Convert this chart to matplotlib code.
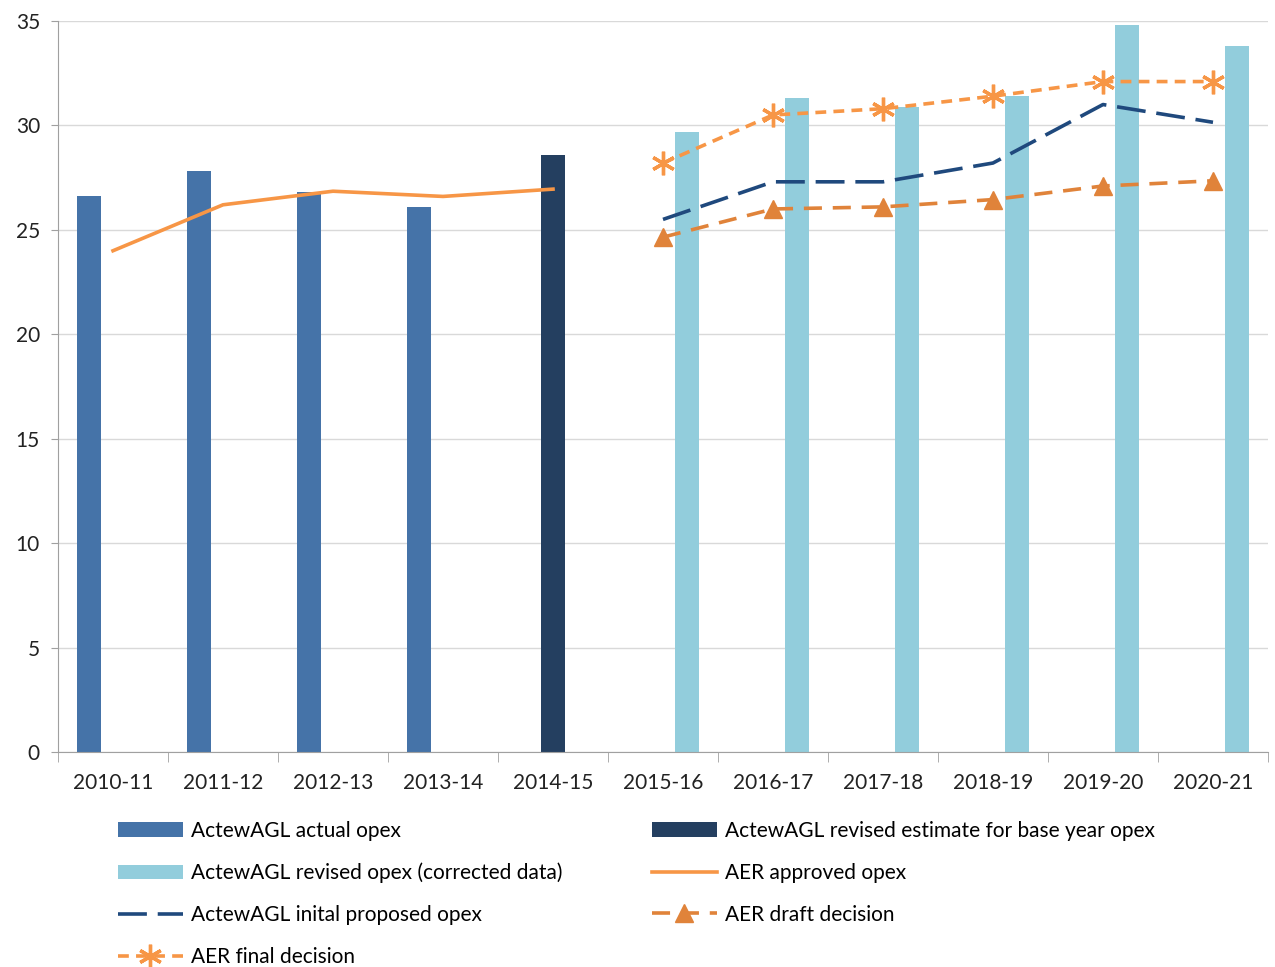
import matplotlib.pyplot as plt
import numpy as np

plt.rcParams['font.family'] = ['Lato', 'DejaVu Sans']

years = ['2010-11', '2011-12', '2012-13', '2013-14', '2014-15', '2015-16',
         '2016-17', '2017-18', '2018-19', '2019-20', '2020-21']

# bars
actual_opex = [26.6, 27.8, 26.8, 26.1, None, None, None, None, None, None, None]
base_year_est = [None, None, None, None, 28.6, None, None, None, None, None, None]
revised_opex = [None, None, None, None, None, 29.7, 31.3, 30.9, 31.4, 34.8, 33.8]

# lines
aer_approved = [24.0, 26.2, 26.85, 26.6, 26.95]
initial_proposed = [25.5, 27.3, 27.3, 28.2, 31.0, 30.15]
draft_decision = [24.65, 26.0, 26.1, 26.45, 27.1, 27.35]
final_decision = [28.2, 30.5, 30.8, 31.4, 32.1, 32.1]

x = np.arange(len(years))
w = 0.22


def to_arr(vals):
    return np.array([np.nan if v is None else v for v in vals], dtype=float)


fig = plt.figure(figsize=(12.75, 9.67), dpi=100)
ax = fig.add_axes([0.0455, 0.2223, 0.949, 0.756])

ax.bar(x - w, to_arr(actual_opex), w, color='#4573A8', label='ActewAGL actual opex', zorder=2)
ax.bar(x, to_arr(base_year_est), w, color='#243F60',
       label='ActewAGL revised estimate for base year opex', zorder=2)
ax.bar(x + w, to_arr(revised_opex), w, color='#92CDDC',
       label='ActewAGL revised opex (corrected data)', zorder=2)

ax.plot(x[:5], aer_approved, color='#F79646', lw=2.6, label='AER approved opex', zorder=3)
ax.plot(x[5:], initial_proposed, color='#1F497D', lw=2.6, dashes=(8, 3),
        label='ActewAGL inital proposed opex', zorder=3)
ax.plot(x[5:], draft_decision, color='#E0833A', lw=2.6, dashes=(5, 3),
        marker='^', markersize=13, label='AER draft decision', zorder=3)
ax.plot(x[5:], final_decision, color='#F79646', lw=2.6, dashes=(3, 2),
        marker=(6, 2, 0), markersize=17, markeredgewidth=2.4,
        label='AER final decision', zorder=3)

ax.set_xlim(-0.5, len(years) - 0.5)
ax.set_ylim(0, 35)
ax.set_yticks(range(0, 36, 5))
ax.set_xticks(x)
ax.set_xticklabels(years)
ax.set_xticks(np.arange(-0.5, len(years), 1), minor=True)
ax.tick_params(axis='x', which='major', length=0, pad=15, labelsize=15, colors='#222222')
ax.tick_params(axis='x', which='minor', length=7, color='#A0A0A0')
ax.tick_params(axis='y', length=5, color='#A0A0A0', labelsize=15, colors='#222222', pad=8)
ax.yaxis.grid(True, color='#D9D9D9', lw=1, zorder=0)
ax.set_axisbelow(True)
for side in ['top', 'right']:
    ax.spines[side].set_visible(False)
for side in ['left', 'bottom']:
    ax.spines[side].set_color('#A0A0A0')

handles, labels = ax.get_legend_handles_labels()
lookup = dict(zip(labels, handles))
col1 = ['ActewAGL actual opex', 'ActewAGL revised opex (corrected data)',
        'ActewAGL inital proposed opex', 'AER final decision']
col2 = ['ActewAGL revised estimate for base year opex', 'AER approved opex',
        'AER draft decision']
leg_kw = dict(loc='upper left', frameon=False, fontsize=15, handlelength=3.1,
              handletextpad=0.4, labelspacing=1.05, borderpad=0, borderaxespad=0)
leg1 = fig.legend([lookup[k] for k in col1], col1,
                  bbox_to_anchor=(118 / 1275, 1 - 821 / 967), **leg_kw)
fig.legend([lookup[k] for k in col2], col2,
           bbox_to_anchor=(652 / 1275, 1 - 821 / 967), **leg_kw)

fig.savefig('out.png', dpi=100)
